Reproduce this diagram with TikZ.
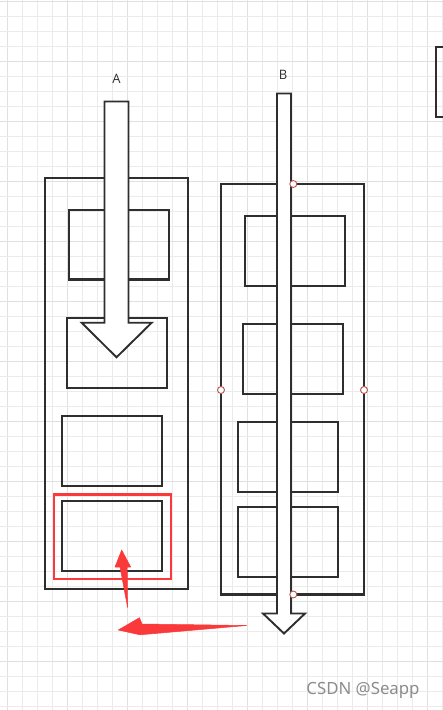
\documentclass[tikz,border=0pt]{standalone}
\usepackage{fontspec}
\setmainfont{Open Sans}
\newfontfamily\wmfont{Noto Sans}
\definecolor{gridminor}{HTML}{EBEBEB}
\definecolor{gridmajor}{HTML}{E0E0E0}
\definecolor{ink}{HTML}{2E2E2E}
\definecolor{mark}{HTML}{FA3A3A}
\definecolor{pt}{HTML}{B85450}
\definecolor{wm}{HTML}{8C8C8C}
\tikzset{
  box/.style={draw=ink, line width=2.3pt},
  bigarrow/.style={draw=ink, fill=white, line width=1.9pt, line join=miter},
  redbox/.style={draw=mark, line width=2.8pt},
  redarrow/.style={fill=mark, draw=mark, line width=0.5pt, line join=round},
  cpoint/.style={circle, draw=pt, fill=white, line width=0.9pt, minimum size=7pt, inner sep=0pt},
  lbl/.style={font=\fontsize{13}{15}\selectfont, text=ink, inner sep=0pt}
}
\begin{document}
\begin{tikzpicture}[x=1pt,y=-1pt]
\useasboundingbox (0,0) rectangle (443,710);
\fill[white] (0,0) rectangle (443,710);
% grid
\foreach \k in {0,...,29} {
  \pgfmathtruncatemacro{\m}{mod(\k,4)}
  \ifnum\m=0 \draw[gridmajor, line width=1pt] (7.5+15*\k,0) -- (7.5+15*\k,710);
  \else \draw[gridminor, line width=1pt] (7.5+15*\k,0) -- (7.5+15*\k,710); \fi
}
\foreach \k in {0,...,47} {
  \pgfmathtruncatemacro{\m}{mod(\k,4)}
  \ifnum\m=0 \draw[gridmajor, line width=1pt] (0,1+15*\k) -- (443,1+15*\k);
  \else \draw[gridminor, line width=1pt] (0,1+15*\k) -- (443,1+15*\k); \fi
}
% top-right partial box
\draw[box] (436,46.7) rectangle (460,117.3);
% column A
\draw[box] (44.7,178) rectangle (187.7,588.7);
\draw[box] (69,210) rectangle (169,279.5);
\draw[box] (67,318) rectangle (167,388);
\draw[box] (62,416) rectangle (162,486);
\draw[box] (62,501) rectangle (162,571);
\draw[redbox] (54,494.5) rectangle (171,579);
% column B
\draw[box] (221,184) rectangle (364,594.5);
\draw[box] (245,216) rectangle (345,286);
\draw[box] (243,324) rectangle (343,394);
\draw[box] (238,422) rectangle (338,492);
\draw[box] (238,507) rectangle (338,577);
% big arrows
\draw[bigarrow] (104.5,101.5) -- (128.5,101.5) -- (128.5,322.7) -- (151.7,322.7)
  -- (116.5,357.3) -- (81.7,322.7) -- (104.5,322.7) -- cycle;
\draw[bigarrow] (277,93.5) -- (291,93.5) -- (291,613.5) -- (305,613.5)
  -- (284,633.5) -- (263,613.5) -- (277,613.5) -- cycle;
% connection points
\node[cpoint] (p1) at (293.3,184) {};
\node[cpoint] (p2) at (221,390) {};
\node[cpoint] (p3) at (364,390) {};
\node[cpoint] (p4) at (293.3,594.5) {};
% labels
\node[lbl] (la) at (116.5,79) {A};
\node[lbl] (lb) at (283,74.5) {B};
% red hand-drawn arrows
\fill[redarrow] (127.6,607.5) -- (127.2,567) -- (130.7,567) -- (121.7,550)
  -- (115,567) -- (120,567) -- cycle;
\fill[redarrow] (246.7,625.5) -- (142,624) -- (139.5,617.7) -- (118.3,630)
  -- (140,634.8) -- cycle;
% watermark
\node[font=\wmfont\fontsize{16.8}{19}\selectfont, text=wm, inner sep=0pt] (wmk) at (363,690) {CSDN @Seapp};
\end{tikzpicture}
\end{document}
